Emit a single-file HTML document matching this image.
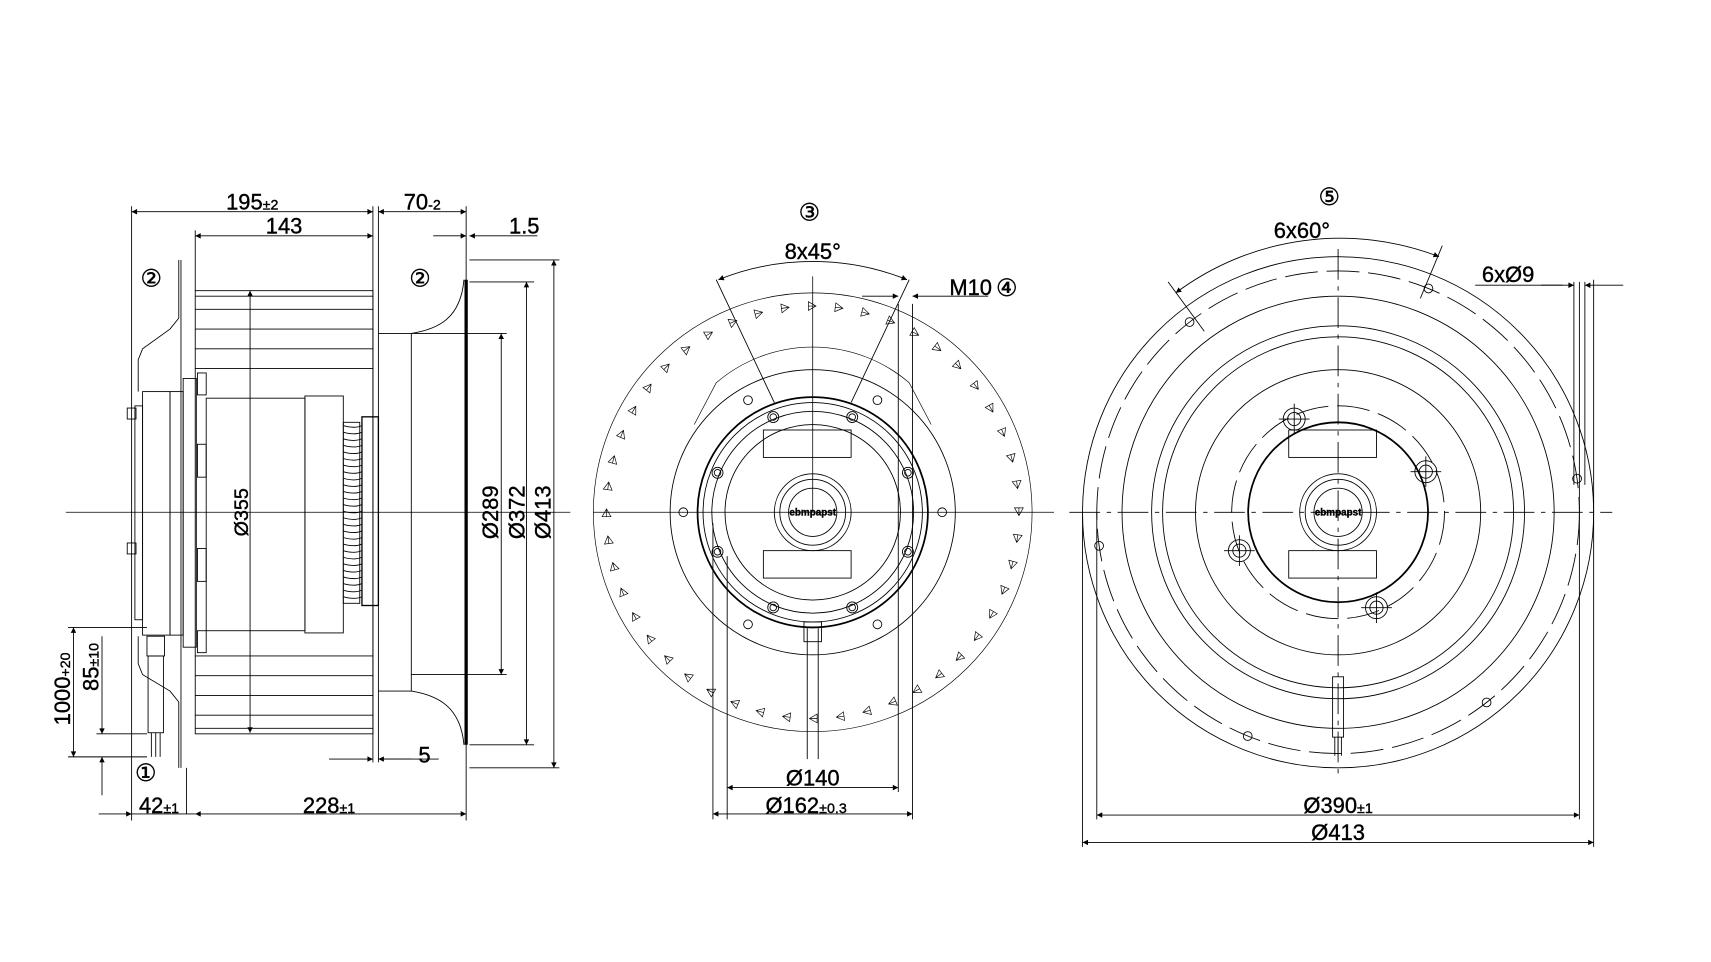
<!DOCTYPE html>
<html><head><meta charset="utf-8"><style>
html,body{margin:0;padding:0;background:#fff;}
svg{display:block}
text{font-family:"Liberation Sans",Arial,sans-serif;fill:#000;stroke:#000;stroke-width:0.35;}
</style></head><body>
<svg id="s" width="1711" height="962" viewBox="0 0 1560 877" preserveAspectRatio="none" xmlns="http://www.w3.org/2000/svg">
<defs>
<marker id="a" viewBox="0 0 10 10" refX="10" refY="5" markerWidth="11" markerHeight="5" orient="auto-start-reverse" markerUnits="userSpaceOnUse"><path d="M0,0 L10,5 L0,10z" fill="#000"/></marker>
</defs>
<g id="g" stroke="#000" fill="none" stroke-width="0.8">
<line x1="60" y1="467" x2="520" y2="467" stroke-width="0.7"/>
<line x1="120" y1="188" x2="120" y2="748"/>
<line x1="340" y1="188" x2="340" y2="695"/>
<line x1="345" y1="188" x2="345" y2="695"/>
<line x1="425" y1="188" x2="425" y2="748"/>
<line x1="178" y1="210" x2="178" y2="265"/>
<line x1="170" y1="742" x2="170" y2="700"/>
<line x1="120" y1="193" x2="340" y2="193" marker-start="url(#a)" marker-end="url(#a)"/>
<line x1="178" y1="215" x2="340" y2="215" marker-start="url(#a)" marker-end="url(#a)"/>
<line x1="345" y1="193" x2="425" y2="193" marker-start="url(#a)" marker-end="url(#a)"/>
<line x1="395" y1="215" x2="425" y2="215" marker-end="url(#a)"/>
<line x1="490" y1="215" x2="428" y2="215" marker-end="url(#a)"/>
<line x1="428" y1="237" x2="510" y2="237"/>
<line x1="428" y1="700" x2="510" y2="700"/>
<line x1="428" y1="257" x2="487" y2="257"/>
<line x1="428" y1="679" x2="487" y2="679"/>
<line x1="375" y1="304" x2="462" y2="304"/>
<line x1="375" y1="615" x2="462" y2="615"/>
<line x1="505" y1="237" x2="505" y2="700" marker-start="url(#a)" marker-end="url(#a)"/>
<line x1="480" y1="257" x2="480" y2="679" marker-start="url(#a)" marker-end="url(#a)"/>
<line x1="457" y1="304" x2="457" y2="615" marker-start="url(#a)" marker-end="url(#a)"/>
<rect x="178" y="265" width="162" height="404"/>
<line x1="178" y1="270" x2="340" y2="270"/>
<line x1="178" y1="664" x2="340" y2="664"/>
<g id="implines"></g>
<line x1="228" y1="265" x2="228" y2="668" marker-start="url(#a)" marker-end="url(#a)"/>
<path d="M345,304 L375,304 C400,300 420,290 423,255"/>
<path d="M345,630 L375,630 C400,634 420,645 423,679"/>
<line x1="375" y1="304" x2="375" y2="630"/>
<line x1="425" y1="255" x2="425" y2="679" stroke-width="3"/>
<path d="M163,237 L163,290 L155,300 L130,318 L126,328 L126,357"/>
<path d="M163,700 L163,640 L155,630 L130,615 L126,605 L126,580"/>
<line x1="165" y1="237" x2="165" y2="700"/>
<rect x="130" y="357" width="25" height="222"/>
<rect x="155" y="357" width="12" height="222"/>
<rect x="167" y="345" width="12" height="245"/>
<rect x="188" y="363" width="90" height="212"/>
<rect x="278" y="361" width="35" height="216"/>
<rect x="313" y="385" width="15" height="165"/>
<rect x="330" y="380" width="15" height="172" stroke-width="1.2"/>
<rect x="123" y="370" width="7" height="195"/>
<rect x="116" y="372" width="8" height="10"/><rect x="116" y="495" width="8" height="10"/>
<rect x="180" y="340" width="8" height="20"/><rect x="180" y="405" width="8" height="30"/><rect x="180" y="500" width="8" height="30"/><rect x="180" y="575" width="8" height="20"/>
<g id="fins"></g>
<rect x="134" y="580" width="16" height="18"/>
<rect x="135" y="598" width="14" height="70"/>
<line x1="138" y1="668" x2="138" y2="690"/><line x1="142" y1="668" x2="142" y2="690"/><line x1="146" y1="668" x2="146" y2="690"/>
<line x1="62" y1="572" x2="134" y2="572"/>
<line x1="62" y1="690" x2="134" y2="690"/>
<line x1="88" y1="669" x2="134" y2="669"/>
<line x1="67" y1="572" x2="67" y2="690" marker-start="url(#a)" marker-end="url(#a)"/>
<line x1="93" y1="580" x2="93" y2="669" marker-end="url(#a)"/>
<line x1="93" y1="725" x2="93" y2="690" marker-end="url(#a)"/>
<line x1="90" y1="742" x2="120" y2="742" marker-end="url(#a)"/>
<line x1="120" y1="742" x2="178" y2="742"/>
<line x1="178" y1="742" x2="425" y2="742" marker-start="url(#a)" marker-end="url(#a)"/>
<line x1="300" y1="692" x2="340" y2="692" marker-end="url(#a)"/>
<line x1="375" y1="692" x2="345" y2="692" marker-end="url(#a)"/>
<line x1="345" y1="692" x2="400" y2="692"/>

<g id="mid" transform="translate(741,467)">
<line x1="-200" y1="0" x2="220" y2="0" stroke-width="0.7"/>
<line x1="0" y1="-215" x2="0" y2="0" stroke-width="0.7"/>
<circle r="200" stroke-width="0.6"/>
<path d="M-108,-80 L-88,-118 A135,135 0 0,1 88,-118 L108,-80" stroke-width="0.6"/>
<circle r="130"/>
<circle r="105" stroke-width="1.6"/>
<circle r="100"/>
<circle r="92"/>
<circle r="80"/>
<circle r="35"/><circle r="30"/><circle r="22"/>
<rect x="-45" y="-75" width="80" height="25"/>
<rect x="-45" y="35" width="80" height="25"/>
<g id="bolts"></g>
<g id="blades"></g>
<line x1="-5" y1="105" x2="-5" y2="225"/><line x1="5" y1="105" x2="5" y2="225"/>
<rect x="-8" y="100" width="16" height="18"/>
<line x1="-78" y1="40" x2="-78" y2="280"/>
<line x1="-91" y1="10" x2="-91" y2="280"/>
<line x1="78" y1="-190" x2="78" y2="255"/>
<line x1="91" y1="-190" x2="91" y2="280"/>
<line x1="-78" y1="251" x2="78" y2="251" marker-start="url(#a)" marker-end="url(#a)"/>
<line x1="-91" y1="275" x2="91" y2="275" marker-start="url(#a)" marker-end="url(#a)"/>
<line x1="-35" y1="-100" x2="-88" y2="-212"/>
<line x1="35" y1="-100" x2="88" y2="-212"/>
<path d="M-86,-212 A230,230 0 0,1 86,-212" marker-start="url(#a)" marker-end="url(#a)"/>
<line x1="45" y1="-197" x2="78" y2="-197" marker-end="url(#a)"/>
<line x1="160" y1="-197" x2="91" y2="-197" marker-end="url(#a)"/>
</g>

<g transform="translate(1220,467)">
<line x1="-245" y1="0" x2="250" y2="0" stroke-dasharray="28,6,4,6"/>
<line x1="0" y1="-240" x2="0" y2="240" stroke-dasharray="28,6,4,6"/>
<circle r="233"/>
<circle r="220" stroke-dasharray="30,8"/>
<circle r="197"/>
<circle r="170"/>
<circle r="160"/>
<circle r="130"/>
<circle r="97" stroke-dasharray="30,8"/>
<circle r="82" stroke-width="1.6"/>
<circle r="35"/><circle r="30"/><circle r="22"/>
<rect x="-45" y="-75" width="80" height="25"/>
<rect x="-45" y="35" width="80" height="25"/>
<g id="rholes"></g>
<rect x="-5" y="150" width="10" height="55"/>
<line x1="-3" y1="205" x2="-3" y2="222"/><line x1="0" y1="205" x2="0" y2="222"/><line x1="3" y1="205" x2="3" y2="222"/>
<line x1="-220" y1="0" x2="-220" y2="280"/>
<line x1="220" y1="-210" x2="220" y2="280"/>
<line x1="-233" y1="0" x2="-233" y2="305"/>
<line x1="233" y1="-212" x2="233" y2="305"/>
<line x1="-220" y1="276" x2="220" y2="276" marker-start="url(#a)" marker-end="url(#a)"/>
<line x1="-233" y1="301" x2="233" y2="301" marker-start="url(#a)" marker-end="url(#a)"/>
<line x1="125" y1="-207" x2="205" y2="-207"/>
<line x1="185" y1="-207" x2="215" y2="-207" marker-end="url(#a)"/>
<line x1="260" y1="-207" x2="225" y2="-207" marker-end="url(#a)"/>
<line x1="215" y1="-210" x2="215" y2="-25"/>
<line x1="225" y1="-210" x2="225" y2="-25"/>
<path d="M-148,-200 A250,250 0 0,1 92,-233" marker-start="url(#a)" marker-end="url(#a)"/>
<line x1="-155" y1="-210" x2="-122" y2="-165"/>
<line x1="95" y1="-243" x2="75" y2="-195"/>
</g>
</g>
<g font-size="20">
<text x="230" y="191" text-anchor="middle">195<tspan font-size="13">±2</tspan></text>
<text x="259" y="213" text-anchor="middle">143</text>
<text x="385" y="191" text-anchor="middle">70<tspan font-size="13">-2</tspan></text>
<text x="478" y="213" text-anchor="middle">1.5</text>
<text x="138" y="261" text-anchor="middle" font-size="22">②</text>
<text x="383" y="261" text-anchor="middle" font-size="22">②</text>
<text x="133" y="712" text-anchor="middle" font-size="22">①</text>
<text x="145" y="741" text-anchor="middle">42<tspan font-size="13">±1</tspan></text>
<text x="300" y="741" text-anchor="middle">228<tspan font-size="13">±1</tspan></text>
<text x="387" y="695" text-anchor="middle">5</text>
<text transform="translate(226,467) rotate(-90)" text-anchor="middle" font-size="18">Ø355</text>
<text transform="translate(454,467) rotate(-90)" text-anchor="middle">Ø289</text>
<text transform="translate(478,467) rotate(-90)" text-anchor="middle">Ø372</text>
<text transform="translate(502,467) rotate(-90)" text-anchor="middle">Ø413</text>
<text transform="translate(64,628) rotate(-90)" text-anchor="middle">1000<tspan font-size="13">+20</tspan></text>
<text x="0" y="0" transform="translate(90,608) rotate(-90)" text-anchor="middle">85<tspan font-size="13">±10</tspan></text>
<text x="738" y="201" text-anchor="middle" font-size="22">③</text>
<text x="741" y="236" text-anchor="middle">8x45°</text>
<text x="885" y="269" text-anchor="middle">M10</text>
<text x="918" y="270" text-anchor="middle" font-size="22">④</text>
<text x="741" y="716" text-anchor="middle">Ø140</text>
<text x="735" y="741" text-anchor="middle">Ø162<tspan font-size="13">±0.3</tspan></text>
<text x="1212" y="187" text-anchor="middle" font-size="22">⑤</text>
<text x="1187" y="217" text-anchor="middle">6x60°</text>
<text x="1375" y="257" text-anchor="middle">6xØ9</text>
<text x="1220" y="741" text-anchor="middle">Ø390<tspan font-size="13">±1</tspan></text>
<text x="1220" y="766" text-anchor="middle">Ø413</text>
</g>
<g font-size="9" font-weight="bold"><text x="741" y="470" text-anchor="middle">ebmpapst</text><text x="1220" y="470" text-anchor="middle">ebmpapst</text></g>
</svg>
<script>
var NS="http://www.w3.org/2000/svg";
function el(p,t,a){var e=document.createElementNS(NS,t);for(var k in a)e.setAttribute(k,a[k]);document.getElementById(p).appendChild(e);return e;}
[282,300,318,336,598,616,634,652].forEach(function(y){el("implines","line",{x1:178,y1:y,x2:340,y2:y});});
for(var y=388;y<548;y+=6){el("fins","path",{d:"M313,"+y+" q10,3 17,0"});}
for(var i=0;i<8;i++){var a=(22.5+45*i)*Math.PI/180;var x=94*Math.sin(a),yy=-94*Math.cos(a);
el("bolts","circle",{cx:x.toFixed(1),cy:yy.toFixed(1),r:5});el("bolts","circle",{cx:x.toFixed(1),cy:yy.toFixed(1),r:3});}
for(var i=0;i<6;i++){var a=(30+60*i)*Math.PI/180;el("bolts","circle",{cx:(118*Math.sin(a)).toFixed(1),cy:(-118*Math.cos(a)).toFixed(1),r:4});}
for(var i=0;i<48;i++){var ang=i*7.5;var g=el("blades","g",{transform:"rotate("+ang+") translate(0,-188)"});
var p=document.createElementNS(NS,"path");p.setAttribute("d","M-4,-4 L3,0 L-4,4 Z M-4,0 L3,0");p.setAttribute("stroke-width","0.6");g.appendChild(p);}
[-8,-68,-128,172,112,52].forEach(function(d){var a=d*Math.PI/180;var x=(220*Math.cos(a)).toFixed(1),y=(220*Math.sin(a)).toFixed(1);
el("rholes","circle",{cx:x,cy:y,r:4});});
[[-40,-85],[80,-37],[-90,35],[35,87]].forEach(function(p){el("rholes","circle",{cx:p[0],cy:p[1],r:10});el("rholes","circle",{cx:p[0],cy:p[1],r:6});
el("rholes","line",{x1:p[0]-14,y1:p[1],x2:p[0]+14,y2:p[1]});el("rholes","line",{x1:p[0],y1:p[1]-14,x2:p[0],y2:p[1]+14});});
</script>
</body></html>
